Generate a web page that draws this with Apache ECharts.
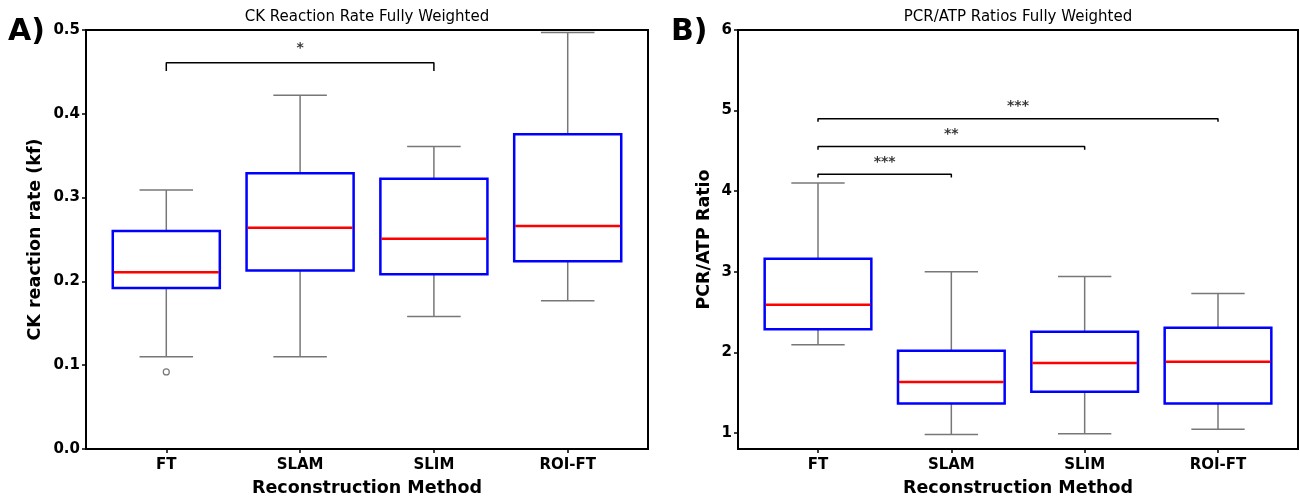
<!DOCTYPE html>
<html>
<head>
<meta charset="utf-8">
<script src="https://cdn.jsdelivr.net/npm/echarts@6/dist/echarts.min.js"></script>
<style>
  html, body { margin: 0; padding: 0; background: #fff; }
  #main { width: 1300px; height: 496px; }
</style>
</head>
<body>
<div id="main"></div>
<script>
// 数据
var categories = ['FT', 'SLAM', 'SLIM', 'ROI-FT']
var categoryPos = [1, 2, 3, 4]

// [min, Q1, median, Q3, max]
var ckBoxes = [
  [0.110, 0.192, 0.211, 0.260, 0.309],
  [0.110, 0.213, 0.264, 0.329, 0.422],
  [0.158, 0.2085, 0.251, 0.3225, 0.361],
  [0.177, 0.224, 0.266, 0.3755, 0.497]
]
var ckOutliers = [[1, 0.092]]

var ratioBoxes = [
  [2.095, 2.286, 2.59, 3.16, 4.10],
  [0.98, 1.366, 1.63, 2.02, 3.00],
  [0.99, 1.51, 1.867, 2.256, 2.94],
  [1.046, 1.366, 1.883, 2.306, 2.73]
]

var ratioTicks = [1, 2, 3, 4, 5, 6]

// [from, to, height, drop, text]
var ckBrackets = [[1, 3, 0.461, 0.010, '*']]
var ratioBrackets = [
  [1, 2, 4.21, 0.04, '***'],
  [1, 3, 4.555, 0.04, '**'],
  [1, 4, 4.90, 0.04, '***']
]

var FONT = 'DejaVu Sans'

;(function () {
  var myChart = echarts.init(document.getElementById('main'))

  var renderBox = function (params, api) {
    var x = api.value(0)
    var lo = api.coord([x, api.value(1)])
    var q1 = api.coord([x, api.value(2)])
    var md = api.coord([x, api.value(3)])
    var q3 = api.coord([x, api.value(4)])
    var hi = api.coord([x, api.value(5)])
    var bw = api.size([0.8, 0])[0]
    var cw = bw / 4
    var cx = lo[0]
    var grey = { stroke: '#777', lineWidth: 1.5, fill: null }
    return {
      type: 'group',
      children: [
        { type: 'line', shape: { x1: cx, y1: lo[1], x2: cx, y2: q1[1] }, style: grey },
        { type: 'line', shape: { x1: cx, y1: q3[1], x2: cx, y2: hi[1] }, style: grey },
        { type: 'line', shape: { x1: cx - cw, y1: lo[1], x2: cx + cw, y2: lo[1] }, style: grey },
        { type: 'line', shape: { x1: cx - cw, y1: hi[1], x2: cx + cw, y2: hi[1] }, style: grey },
        {
          type: 'rect',
          shape: { x: cx - bw / 2, y: q3[1], width: bw, height: q1[1] - q3[1] },
          style: { stroke: '#0000ff', lineWidth: 2.5, fill: null }
        },
        {
          type: 'line',
          shape: { x1: cx - bw / 2 + 1, y1: md[1], x2: cx + bw / 2 - 1, y2: md[1] },
          style: { stroke: '#ff0000', lineWidth: 2.5 }
        }
      ]
    }
  }

  var boxData = function (boxes) {
    return boxes.map(function (b, i) { return [categoryPos[i]].concat(b) })
  }

  var bracketSeries = function (list, idx, dist) {
    var out = []
    list.forEach(function (b) {
      out.push({
        type: 'line',
        xAxisIndex: idx,
        yAxisIndex: idx,
        symbol: 'none',
        silent: true,
        lineStyle: { color: '#000', width: 1.5 },
        data: [[b[0], b[2] - b[3]], [b[0], b[2]], [b[1], b[2]], [b[1], b[2] - b[3]]]
      })
      out.push({
        type: 'scatter',
        xAxisIndex: idx,
        yAxisIndex: idx,
        symbolSize: 0,
        silent: true,
        label: {
          show: true,
          position: 'top',
          distance: dist,
          formatter: b[4],
          color: '#000',
          fontFamily: FONT,
          fontWeight: 'bold',
          fontSize: 14
        },
        data: [[(b[0] + b[1]) / 2, b[2]]]
      })
    })
    return out
  }

  var xAxisCfg = function (idx) {
    return {
      type: 'value',
      gridIndex: idx,
      min: 0.4,
      max: 4.6,
      name: 'Reconstruction Method',
      nameLocation: 'middle',
      nameGap: 30,
      nameTextStyle: { fontFamily: FONT, fontWeight: 'bold', fontSize: 17.5, color: '#000' },
      axisLine: { show: true, onZero: false, lineStyle: { color: '#000', width: 2 } },
      axisTick: { show: true, customValues: categoryPos, length: 4, lineStyle: { color: '#000', width: 1.5 } },
      axisLabel: {
        customValues: categoryPos,
        formatter: function (v) { return categories[Math.round(v) - 1] },
        fontFamily: FONT, fontWeight: 'bold', fontSize: 15, color: '#000', margin: 9
      },
      splitLine: { show: false }
    }
  }

  var option = {
    backgroundColor: '#fff',
    animation: false,
    graphic: [
      { type: 'text', left: 8, top: 17, style: { text: 'A)', font: 'bold 30px "DejaVu Sans"', fill: '#000' } },
      { type: 'text', left: 671, top: 17, style: { text: 'B)', font: 'bold 30px "DejaVu Sans"', fill: '#000' } },
      { type: 'text', x: 367, y: 17, style: { text: 'CK Reaction Rate Fully Weighted', font: '15px "DejaVu Sans"', fill: '#000', align: 'center', verticalAlign: 'middle' } },
      { type: 'text', x: 1018, y: 17, style: { text: 'PCR/ATP Ratios Fully Weighted', font: '15px "DejaVu Sans"', fill: '#000', align: 'center', verticalAlign: 'middle' } }
    ],
    grid: [
      { left: 86, right: 652, top: 30, bottom: 47, outerBoundsMode: 'none', containLabel: false, show: true, borderColor: '#000', borderWidth: 2 },
      { left: 738, right: 2, top: 30, bottom: 47, outerBoundsMode: 'none', containLabel: false, show: true, borderColor: '#000', borderWidth: 2 }
    ],
    xAxis: [xAxisCfg(0), xAxisCfg(1)],
    yAxis: [
      {
        type: 'value',
        gridIndex: 0,
        min: 0,
        max: 0.5,
        interval: 0.1,
        name: 'CK reaction rate (kf)',
        nameLocation: 'middle',
        nameGap: 42,
        nameTextStyle: { fontFamily: FONT, fontWeight: 'bold', fontSize: 17.5, color: '#000' },
        axisLine: { show: true, lineStyle: { color: '#000', width: 2 } },
        axisTick: { show: true, length: 4, lineStyle: { color: '#000', width: 1.5 } },
        axisLabel: { fontFamily: FONT, fontWeight: 'bold', fontSize: 15, color: '#000', margin: 6,
          formatter: function (v) { return v.toFixed(1) } },
        splitLine: { show: false }
      },
      {
        type: 'value',
        gridIndex: 1,
        min: 0.8,
        max: 6,
        name: 'PCR/ATP Ratio',
        nameLocation: 'middle',
        nameGap: 25,
        nameTextStyle: { fontFamily: FONT, fontWeight: 'bold', fontSize: 17.5, color: '#000' },
        axisLine: { show: true, lineStyle: { color: '#000', width: 2 } },
        axisTick: { show: true, customValues: ratioTicks, length: 4, lineStyle: { color: '#000', width: 1.5 } },
        axisLabel: { customValues: ratioTicks, fontFamily: FONT, fontWeight: 'bold', fontSize: 15, color: '#000', margin: 6 },
        splitLine: { show: false }
      }
    ],
    series: [
      {
        type: 'custom',
        xAxisIndex: 0,
        yAxisIndex: 0,
        renderItem: renderBox,
        encode: { x: 0, y: [1, 2, 3, 4, 5] },
        data: boxData(ckBoxes)
      },
      {
        type: 'scatter',
        xAxisIndex: 0,
        yAxisIndex: 0,
        symbol: 'circle',
        symbolSize: 6,
        itemStyle: { color: '#fff', borderColor: '#555', borderWidth: 1.2 },
        data: ckOutliers
      },
      {
        type: 'custom',
        xAxisIndex: 1,
        yAxisIndex: 1,
        renderItem: renderBox,
        encode: { x: 0, y: [1, 2, 3, 4, 5] },
        data: boxData(ratioBoxes)
      }
    ].concat(bracketSeries(ckBrackets, 0, 7)).concat(bracketSeries(ratioBrackets, 1, 5))
  }

  myChart.setOption(option)
  window.addEventListener('resize', function () { myChart.resize() }, false)
})()
</script>
</body>
</html>
